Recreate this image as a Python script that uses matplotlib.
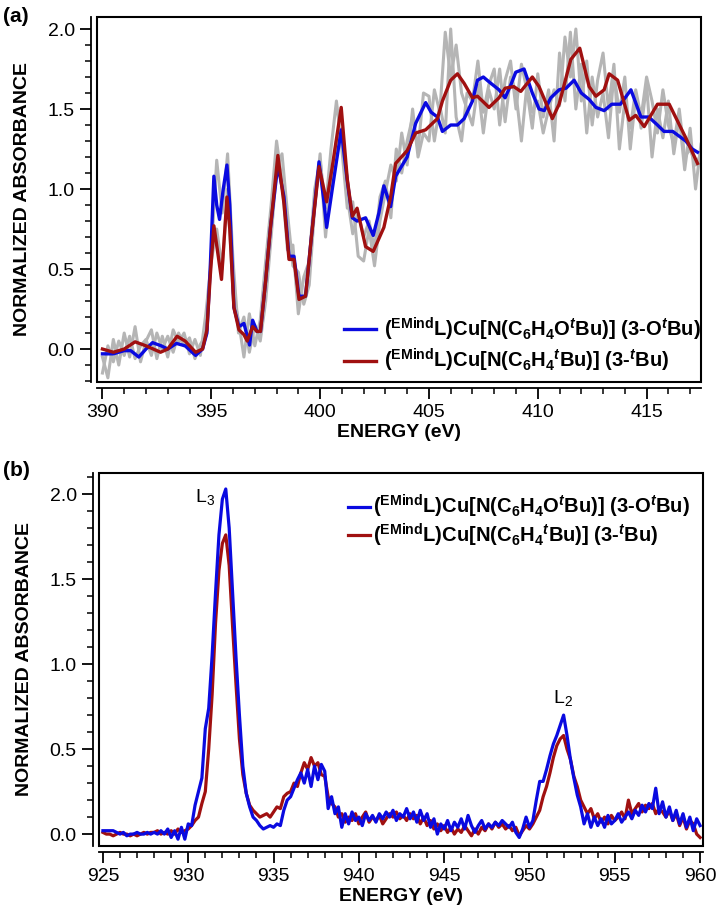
import matplotlib
matplotlib.use('Agg')
import matplotlib.pyplot as plt
import numpy as np
from matplotlib.patches import Rectangle
from matplotlib.ticker import MultipleLocator

plt.rcParams['font.family'] = 'Liberation Sans'
plt.rcParams['mathtext.fontset'] = 'custom'
plt.rcParams['mathtext.rm'] = 'Liberation Sans'
plt.rcParams['mathtext.it'] = 'Liberation Sans:italic:bold'
plt.rcParams['mathtext.bf'] = 'Liberation Sans:bold'

# ---------------- (a) N K-edge ----------------
raw_e = np.arange(390.0, 417.51, 0.25)
raw_a = [-0.15, 0.02, -0.08, 0.05, -0.04, 0.08, -0.06, 0.02, 0.06, -0.04, 0.10, 0.00,
         0.08, -0.02, 0.10, 0.02, 0.07, -0.06, 0.03, 0.08, 0.60, 1.18, 0.85, 1.22,
         0.55, 0.10, 0.20, -0.02, 0.15, 0.05, 0.30, 0.70, 1.12, 1.22, 0.85, 0.52,
         0.48, 0.28, 0.40, 0.88, 1.22, 0.70, 1.05, 1.30, 1.38, 0.95, 0.72, 0.85,
         0.70, 0.80, 0.62, 0.95, 1.05, 0.82, 1.25, 1.10, 1.30, 1.45, 1.25, 1.60,
         1.58, 1.30, 1.52, 1.35, 2.00, 1.45, 1.30, 1.60, 1.55, 1.80, 1.48, 1.65,
         1.75, 1.40, 1.68, 1.80, 1.50, 1.78, 1.62, 1.38, 1.72, 1.45, 1.62, 1.30,
         1.85, 1.55, 1.98, 1.50, 1.78, 1.35, 1.70, 1.45, 1.60, 1.32, 1.72, 1.48,
         1.70, 1.25, 1.58, 1.38, 1.65, 1.20, 1.50, 1.32, 1.55, 1.22, 1.45, 1.12,
         1.38, 1.00, 1.28]
raw_b = [-0.05, -0.18, 0.06, -0.10, 0.10, -0.05, 0.14, -0.08, 0.05, 0.12, -0.06, 0.08,
         -0.05, 0.12, 0.04, 0.10, -0.03, 0.06, -0.04, 0.22, 0.55, 0.75, 0.50, 1.00,
         0.35, 0.18, -0.05, 0.22, 0.02, 0.18, 0.55, 0.90, 1.30, 1.05, 0.62, 0.65,
         0.22, 0.45, 0.55, 1.00, 1.18, 0.88, 1.25, 1.55, 1.25, 0.88, 0.92, 0.58,
         0.55, 0.75, 0.52, 0.80, 0.98, 1.15, 1.05, 1.35, 1.15, 1.50, 1.20, 1.35,
         1.30, 1.62, 1.48, 1.98, 1.70, 1.90, 1.60, 1.50, 1.40, 1.65, 1.35, 1.62,
         1.50, 1.75, 1.42, 1.70, 1.60, 1.30, 1.65, 1.48, 1.55, 1.35, 1.50, 1.62,
         1.52, 1.95, 1.70, 2.00, 1.55, 1.80, 1.40, 1.68, 1.85, 1.50, 1.78, 1.25,
         1.55, 1.38, 1.62, 1.45, 1.70, 1.55, 1.35, 1.62, 1.40, 1.28, 1.50, 1.20,
         1.25, 1.15, 1.22]

blue_a_e = [390.0, 390.5, 391.0, 391.3, 391.67, 392.0, 392.3, 392.7, 393.0, 393.4, 393.8,
            394.28, 394.6, 394.8, 394.95, 395.12, 395.25, 395.38, 395.55, 395.72, 395.85,
            396.04, 396.27, 396.5, 396.76, 396.9, 397.1, 397.26, 397.5, 397.72, 398.06,
            398.34, 398.57, 398.8, 399.03, 399.33, 399.6, 399.95, 400.15, 400.3, 400.56,
            400.97, 401.25, 401.48, 401.7, 402.09, 402.44, 402.7, 402.93, 403.24, 403.47,
            404.0, 404.39, 404.85, 405.1, 405.39, 405.62, 406.0, 406.31, 406.62, 407.0,
            407.23, 407.5, 407.76, 408.22, 408.5, 408.76, 408.99, 409.37, 409.75, 410.06,
            410.3, 410.6, 410.98, 411.3, 411.67, 412.0, 412.36, 412.67, 413.05, 413.4,
            413.8, 414.28, 414.74, 415.1, 415.5, 415.8, 416.2, 416.8, 417.1, 417.34]
blue_a = [-0.03, -0.03, -0.01, -0.01, -0.05, 0.00, 0.04, 0.02, 0.00, 0.035, 0.02,
          -0.04, 0.00, 0.10, 0.50, 1.08, 0.90, 0.81, 1.00, 1.15, 0.90,
          0.26, 0.14, 0.16, 0.025, 0.18, 0.11, 0.11, 0.43, 0.76, 1.15,
          0.95, 0.58, 0.58, 0.33, 0.33, 0.70, 1.17, 0.95, 0.76, 1.00,
          1.37, 1.05, 0.82, 0.80, 0.82, 0.71, 0.85, 1.02, 0.89, 1.08,
          1.20, 1.41, 1.54, 1.48, 1.45, 1.36, 1.40, 1.40, 1.44, 1.55,
          1.68, 1.70, 1.67, 1.62, 1.57, 1.65, 1.73, 1.75, 1.60, 1.50,
          1.49, 1.57, 1.62, 1.63, 1.68, 1.60, 1.56, 1.51, 1.49, 1.53,
          1.53, 1.62, 1.45, 1.45, 1.40, 1.36, 1.36, 1.30, 1.25, 1.23]

red_a_e = [390.0, 390.5, 391.0, 391.5, 392.0, 392.67, 393.0, 393.43, 393.8, 394.28, 394.6,
           394.8, 394.95, 395.12, 395.3, 395.47, 395.6, 395.72, 395.85, 396.04, 396.27,
           396.5, 396.65, 396.9, 397.1, 397.26, 397.5, 397.72, 398.06, 398.34, 398.57,
           398.8, 399.03, 399.33, 399.6, 399.95, 400.3, 400.56, 400.97, 401.25, 401.48,
           401.7, 402.09, 402.44, 402.93, 403.24, 403.47, 404.0, 404.39, 404.85, 405.39,
           405.62, 406.0, 406.31, 406.62, 407.0, 407.23, 407.76, 408.22, 408.5, 408.9,
           409.22, 409.75, 410.06, 410.4, 410.67, 410.98, 411.52, 411.93, 412.36, 412.67,
           413.05, 413.28, 413.67, 414.2, 414.5, 414.89, 415.5, 416.04, 416.8, 417.34]
red_a = [0.00, -0.02, 0.00, 0.045, 0.02, -0.02, 0.00, 0.08, 0.05, -0.02, 0.00,
         0.12, 0.45, 0.77, 0.60, 0.435, 0.70, 0.95, 0.75, 0.26, 0.12,
         0.09, 0.05, 0.14, 0.11, 0.11, 0.43, 0.76, 1.21, 0.91, 0.56,
         0.56, 0.31, 0.33, 0.70, 1.14, 0.92, 1.14, 1.51, 1.06, 0.83,
         0.88, 0.64, 0.61, 0.76, 0.95, 1.16, 1.24, 1.35, 1.37, 1.44,
         1.55, 1.68, 1.72, 1.66, 1.57, 1.58, 1.51, 1.57, 1.63, 1.64,
         1.61, 1.70, 1.64, 1.53, 1.44, 1.53, 1.81, 1.88, 1.64, 1.58,
         1.62, 1.72, 1.68, 1.43, 1.46, 1.39, 1.53, 1.53, 1.32, 1.16]

# ---------------- (b) Cu L-edge ----------------
l_e = np.linspace(925.0, 960.0, 176)
blue_b = [0.02, 0.02, 0.02, 0.02, 0.01, 0.00, 0.01, -0.01, 0.00, 0.00,
          0.01, 0.00, 0.00, 0.01, 0.00, 0.01, 0.00, 0.02, 0.00, 0.03,
          -0.02, 0.02, -0.03, 0.04, -0.03, 0.06, 0.05, 0.17, 0.25, 0.33,
          0.62, 0.74, 1.05, 1.42, 1.76, 1.97, 2.03, 1.80, 1.42, 1.04,
          0.70, 0.40, 0.24, 0.16, 0.10, 0.08, 0.05, 0.03, 0.04, 0.05,
          0.04, 0.06, 0.05, 0.14, 0.20, 0.22, 0.27, 0.32, 0.36, 0.30,
          0.38, 0.28, 0.40, 0.32, 0.41, 0.37, 0.15, 0.22, 0.12, 0.16,
          0.04, 0.12, 0.06, 0.13, 0.08, 0.10, 0.05, 0.12, 0.08, 0.11,
          0.07, 0.12, 0.09, 0.13, 0.10, 0.14, 0.08, 0.12, 0.10, 0.15,
          0.09, 0.13, 0.07, 0.14, 0.08, 0.12, 0.04, 0.09, 0.00, 0.06,
          0.03, 0.08, 0.02, 0.07, 0.04, 0.09, 0.03, 0.11, 0.05, 0.01,
          0.05, 0.08, 0.03, 0.06, 0.04, 0.07, 0.05, 0.08, 0.06, 0.04,
          0.07, 0.01, -0.02, 0.03, 0.10, 0.04, 0.08, 0.20, 0.31, 0.31,
          0.38, 0.46, 0.53, 0.58, 0.64, 0.70, 0.58, 0.44, 0.33, 0.23,
          0.16, 0.06, 0.12, 0.04, 0.10, 0.05, 0.09, 0.04, 0.11, 0.06,
          0.08, 0.12, 0.07, 0.10, 0.13, 0.09, 0.14, 0.11, 0.17, 0.13,
          0.18, 0.15, 0.27, 0.12, 0.19, 0.10, 0.16, 0.08, 0.14, 0.06,
          0.12, 0.04, 0.10, 0.02, 0.09, 0.05]
red_b = [0.01, 0.00, 0.00, -0.01, 0.00, 0.01, 0.00, 0.00, -0.01, 0.00,
         -0.01, 0.00, 0.01, 0.00, 0.01, 0.01, 0.02, 0.00, 0.01, 0.00,
         0.02, 0.00, 0.03, 0.01, 0.02, 0.03, 0.05, 0.08, 0.10, 0.18,
         0.25, 0.50, 0.82, 1.24, 1.55, 1.71, 1.76, 1.58, 1.22, 0.88,
         0.56, 0.35, 0.24, 0.17, 0.14, 0.12, 0.10, 0.11, 0.12, 0.10,
         0.13, 0.16, 0.15, 0.22, 0.24, 0.25, 0.30, 0.28, 0.36, 0.42,
         0.38, 0.45, 0.40, 0.42, 0.35, 0.34, 0.22, 0.18, 0.16, 0.10,
         0.12, 0.07, 0.10, 0.08, 0.12, 0.06, 0.10, 0.13, 0.07, 0.10,
         0.08, 0.11, 0.06, 0.09, 0.12, 0.10, 0.13, 0.09, 0.11, 0.08,
         0.12, 0.09, 0.11, 0.06, 0.10, 0.05, 0.08, 0.03, 0.06, 0.02,
         0.05, 0.01, 0.04, 0.00, 0.03, 0.01, 0.05, 0.02, -0.01, 0.03,
         0.00, 0.04, 0.02, 0.06, 0.03, 0.07, 0.04, 0.06, 0.03, 0.05,
         0.02, 0.04, -0.01, 0.02, 0.05, 0.03, 0.06, 0.10, 0.14, 0.22,
         0.28, 0.36, 0.45, 0.52, 0.56, 0.58, 0.50, 0.44, 0.34, 0.28,
         0.20, 0.16, 0.12, 0.15, 0.09, 0.12, 0.07, 0.10, 0.06, 0.11,
         0.08, 0.10, 0.13, 0.09, 0.20, 0.12, 0.15, 0.18, 0.13, 0.17,
         0.15, 0.18, 0.12, 0.15, 0.13, 0.10, 0.14, 0.08, 0.12, 0.05,
         0.10, 0.03, 0.08, 0.06, 0.00, -0.02]

lab_blue = r'($^{\mathregular{EMind}}$L)Cu[N(C$_{\mathregular{6}}$H$_{\mathregular{4}}$O$^{\mathit{t}}$Bu)] (3-O$^{\mathit{t}}$Bu)'
lab_red = r'($^{\mathregular{EMind}}$L)Cu[N(C$_{\mathregular{6}}$H$_{\mathregular{4}}$$^{\mathit{t}}$Bu)] (3-$^{\mathit{t}}$Bu)'

blue = '#0a0ae0'
red = '#a01010'
gray = '#b5b5b5'

W, H = 717.0, 918.0
fig = plt.figure(figsize=(7.17, 9.18), dpi=100)


def style(ax):
    for s in ['left', 'bottom']:
        ax.spines[s].set_position(('outward', 4))
        ax.spines[s].set_linewidth(1.3)
    ax.spines['top'].set_visible(False)
    ax.spines['right'].set_visible(False)
    ax.add_patch(Rectangle((0, 0), 1, 1, transform=ax.transAxes, fill=False,
                           lw=1.5, ec='black', clip_on=False, zorder=5))
    ax.tick_params(which='major', direction='out', length=8, width=1.3, labelsize=14, pad=4)
    ax.tick_params(which='minor', direction='out', length=4.5, width=1.1)
    ax.yaxis.set_major_locator(MultipleLocator(0.5))
    ax.yaxis.set_minor_locator(MultipleLocator(0.1))
    ax.xaxis.set_major_locator(MultipleLocator(5))
    ax.xaxis.set_minor_locator(MultipleLocator(1))
    ax.yaxis.set_major_formatter(matplotlib.ticker.FormatStrFormatter('%.1f'))
    ax.set_xlabel('ENERGY (eV)', fontsize=14, fontweight='bold', labelpad=2)
    ax.set_ylabel('NORMALIZED ABSORBANCE', fontsize=14, fontweight='bold', labelpad=12)


# top panel
ax1 = fig.add_axes([97 / W, 1 - 382 / H, 604 / W, 365 / H])
ax1.plot(raw_e, raw_a, color=gray, lw=2.2)
ax1.plot(raw_e, raw_b, color=gray, lw=2.2)
ax1.plot(blue_a_e, blue_a, color=blue, lw=2.4, label=lab_blue)
ax1.plot(red_a_e, red_a, color=red, lw=2.4, label=lab_red)
ax1.set_xlim(389.75, 417.5)
ax1.set_ylim(-0.206, 2.075)
style(ax1)
ax1.legend(loc='center left', bbox_to_anchor=(344 / W, 1 - 345 / H), bbox_transform=fig.transFigure,
           frameon=False, prop={'weight': 'bold', 'size': 14.5}, handlelength=1.6,
           handletextpad=0.4, labelspacing=0.2, borderpad=0, borderaxespad=0)

# bottom panel
ax2 = fig.add_axes([99 / W, 1 - 846 / H, 604 / W, 373 / H])
ax2.plot(l_e, red_b, color=red, lw=2.3)
ax2.plot(l_e, blue_b, color=blue, lw=2.3)
ax2.set_xlim(924.77, 960.17)
ax2.set_ylim(-0.07, 2.124)
style(ax2)
h1, = ax2.plot([], [], color=blue, lw=2.3)
h2, = ax2.plot([], [], color=red, lw=2.3)
ax2.legend([h1, h2], [lab_blue, lab_red], loc='center left', bbox_to_anchor=(348 / W, 1 - 521 / H),
           bbox_transform=fig.transFigure, frameon=False, prop={'weight': 'bold', 'size': 14.5},
           handlelength=1.1, handletextpad=0.15, labelspacing=0.05, borderpad=0, borderaxespad=0)
ax2.text(931.0, 1.98, r'L$_{\mathregular{3}}$', fontsize=14, ha='center', va='center')
ax2.text(951.95, 0.80, r'L$_{\mathregular{2}}$', fontsize=14, ha='center', va='center')

fig.text(3 / W, 1 - 16 / H, '(a)', fontsize=15, fontweight='bold', va='center')
fig.text(3 / W, 1 - 471 / H, '(b)', fontsize=15, fontweight='bold', va='center')

fig.savefig('out.png', dpi=100)
